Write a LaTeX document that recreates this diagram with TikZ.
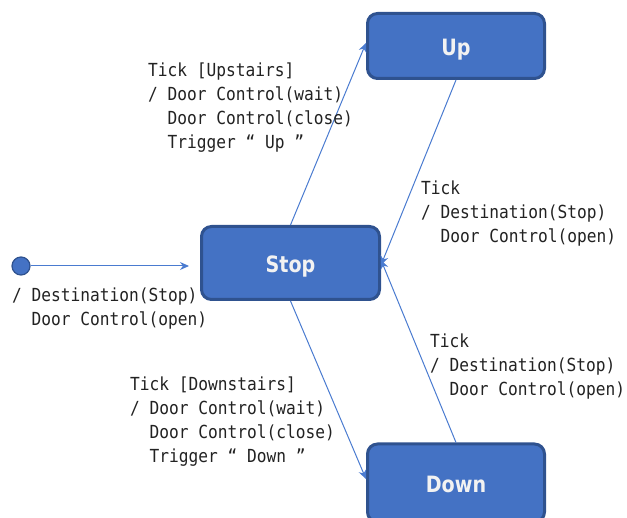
\documentclass[tikz,border=0pt]{standalone}
\usepackage{fontspec}
\usetikzlibrary{arrows.meta}
\newfontfamily\lblfont[FakeStretch=0.9]{DejaVu Sans Mono}
\newfontfamily\boxfont[FakeStretch=0.85]{DejaVu Sans Bold}
\definecolor{boxfill}{HTML}{4472C4}
\definecolor{boxline}{HTML}{2F528F}
\definecolor{edgecol}{HTML}{4A7BD0}
\definecolor{txtcol}{HTML}{222222}
\definecolor{boxtxt}{HTML}{F2F2F2}
\tikzset{
  statebox/.style={draw=boxline, line width=3pt, fill=boxfill, rounded corners=10pt,
    text=boxtxt, font=\boxfont\fontsize{22.5}{24}\selectfont, inner sep=0pt,
    text height=20pt, text depth=0pt},
  trans/.style={draw=edgecol, line width=1pt, -{Stealth[length=9pt,width=8pt]}},
  lbl/.style={font=\lblfont\fontsize{18}{24}\selectfont, text=txtcol, align=left, anchor=north west, inner sep=0pt}
}
\begin{document}
\begin{tikzpicture}[x=1pt,y=-1pt]
\useasboundingbox (0,0) rectangle (627,518);
\begin{scope}
\clip (0,0) rectangle (627,518);
\node[statebox, minimum width=177pt, minimum height=65pt] (up) at (456,46) {Up};
\node[statebox, minimum width=178pt, minimum height=73pt] (stop) at (290.5,263) {Stop};
\node[statebox, minimum width=177pt, minimum height=78pt] (down) at (456,483) {Down};
\end{scope}
\node[circle, draw=boxline, line width=1.2pt, fill=boxfill, minimum size=18pt, inner sep=0pt] (init) at (21,266) {};
\coordinate (initend) at (189,266);
\coordinate (stopin1) at ([yshift=-2pt]stop.east);
\coordinate (stopin2) at ([yshift=3pt]stop.east);
\coordinate (upin) at ([yshift=3pt]up.west);
\coordinate (downin) at ([yshift=4pt]down.west);
\draw[trans] (init) -- (initend);
\draw[trans] (stop.north) -- (upin);
\draw[trans] (up.south) -- (stopin1);
\draw[trans] (down.north) -- (stopin2);
\draw[trans] (stop.south) -- (downin);
\node[lbl] (l1) at (148,63) {Tick [Upstairs]\\/ Door Control(wait)\\\ \ Door Control(close)\\\ \ Trigger “ Up ”};
\node[lbl] (l2) at (421,181) {Tick\\/ Destination(Stop)\\\ \ Door Control(open)};
\node[lbl] (l3) at (12,288) {/ Destination(Stop)\\\ \ Door Control(open)};
\node[lbl] (l4) at (430,334) {Tick\\/ Destination(Stop)\\\ \ Door Control(open)};
\node[lbl] (l5) at (130,377) {Tick [Downstairs]\\/ Door Control(wait)\\\ \ Door Control(close)\\\ \ Trigger “ Down ”};
\end{tikzpicture}
\end{document}
